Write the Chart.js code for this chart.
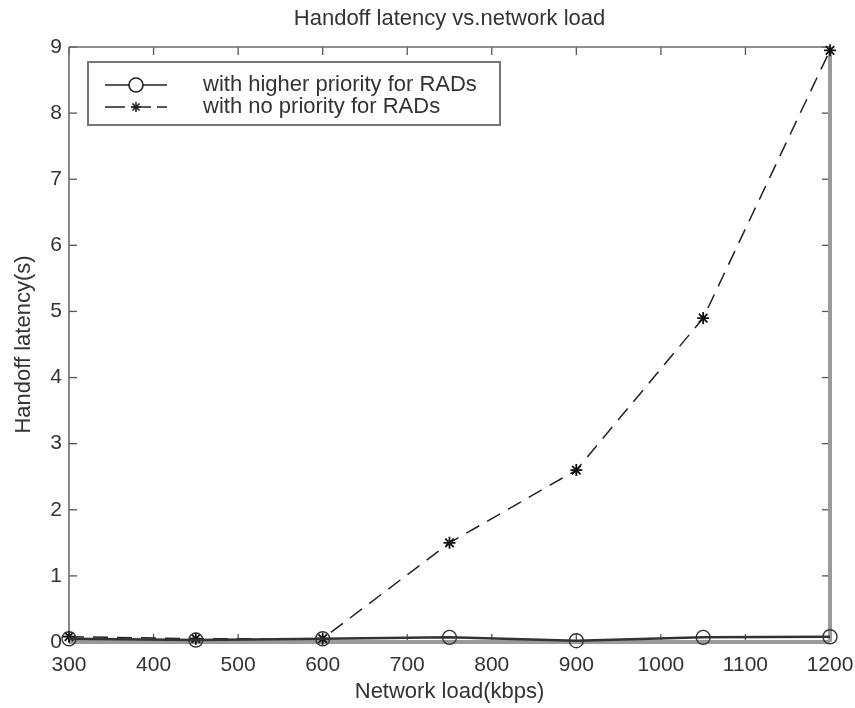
<!DOCTYPE html>
<html><head><meta charset="utf-8">
<style>html,body{margin:0;padding:0;background:#fff}#wrap{width:855px;height:708px}</style>
<script src="https://cdn.jsdelivr.net/npm/chart.js@4.4.1/dist/chart.umd.min.js"></script>
</head><body><div id="wrap"><canvas id="c" width="855" height="708"></canvas></div>
<script>
const titleText = 'Handoff latency vs.network load';
const xAxisTitle = 'Network load(kbps)';
const yAxisTitle = 'Handoff latency(s)';
const seriesLabels = ['with higher priority for RADs', 'with no priority for RADs'];
const loads = [300, 450, 600, 750, 900, 1050, 1200];
const withPriority = [0.05, 0.03, 0.05, 0.07, 0.02, 0.07, 0.08];
const noPriority = [0.08, 0.05, 0.05, 1.5, 2.6, 4.9, 8.95];
const xTicks = [300, 400, 500, 600, 700, 800, 900, 1000, 1100, 1200];
const yTicks = [0, 1, 2, 3, 4, 5, 6, 7, 8, 9];

const FONT = '"Liberation Sans", Arial, sans-serif';
const TXT = '#333';

const framePlugin = {
  id: 'frame',
  beforeDatasetsDraw(chart) {
    const {ctx, chartArea: {left, right, top, bottom}, scales: {x, y}} = chart;
    const line = (a, b, c, d) => { ctx.beginPath(); ctx.moveTo(a, b); ctx.lineTo(c, d); ctx.stroke(); };
    ctx.save();
    ctx.strokeStyle = '#555'; ctx.lineWidth = 1.3;
    xTicks.forEach(v => { const px = x.getPixelForValue(v); line(px, bottom, px, bottom - 8); line(px, top, px, top + 8); });
    yTicks.forEach(v => { const py = y.getPixelForValue(v); line(left, py, left + 8, py); line(right, py, right - 8, py); });
    ctx.strokeStyle = '#6a6a6a'; ctx.lineWidth = 1.6;
    line(left, bottom, left, top); line(left, top, right, top);
    ctx.strokeStyle = '#9a9a9a'; ctx.lineWidth = 4;
    line(right, top, right, bottom); line(left, bottom, right, bottom);
    ctx.restore();
  }
};

const titlePlugin = {
  id: 'plotTitle',
  afterDraw(chart) {
    const {ctx, chartArea: {left, right}} = chart;
    ctx.save();
    ctx.font = '22px ' + FONT;
    ctx.fillStyle = TXT;
    ctx.textAlign = 'center';
    ctx.textBaseline = 'middle';
    ctx.fillText(titleText, (left + right) / 2, 19);
    ctx.restore();
  }
};

const legendPlugin = {
  id: 'customLegend',
  afterDraw(chart) {
    const {ctx} = chart;
    const bx = 88, by = 62, bw = 412, bh = 63;
    ctx.save();
    ctx.fillStyle = '#fff';
    ctx.fillRect(bx, by, bw, bh);
    ctx.strokeStyle = '#777'; ctx.lineWidth = 2;
    ctx.strokeRect(bx, by, bw, bh);
    const rows = [85, 107];
    chart.data.datasets.forEach((ds, i) => {
      const yy = rows[i];
      ctx.strokeStyle = '#222'; ctx.lineWidth = 1.6;
      ctx.setLineDash(i === 1 ? [20, 6] : []);
      ctx.beginPath(); ctx.moveTo(105, yy); ctx.lineTo(167, yy); ctx.stroke();
      ctx.setLineDash([]);
      ctx.strokeStyle = '#222';
      ctx.fillStyle = i === 0 ? '#fff' : '#222';
      Chart.helpers.drawPoint(ctx, {pointStyle: ds.pointStyle, radius: i === 0 ? 7 : 5, borderWidth: 1.4}, 136, yy);
      ctx.fillStyle = TXT;
      ctx.font = '22px ' + FONT;
      ctx.textBaseline = 'middle';
      ctx.fillText(seriesLabels[i], 203, yy);
    });
    ctx.restore();
  }
};

new Chart(document.getElementById('c'), {
  type: 'line',
  data: {
    labels: loads,
    datasets: [
      {
        label: seriesLabels[0],
        data: loads.map((v, i) => ({x: v, y: withPriority[i]})),
        borderColor: '#333', borderWidth: 2.5, pointStyle: 'circle', pointRadius: 7,
        pointBorderColor: '#333', pointBackgroundColor: 'rgba(0,0,0,0)', pointBorderWidth: 1.4,
        tension: 0, clip: false
      },
      {
        label: seriesLabels[1],
        data: loads.map((v, i) => ({x: v, y: noPriority[i]})),
        borderColor: '#222', borderWidth: 1.5, borderDash: [15, 9], pointStyle: 'star', pointRadius: 6,
        pointBorderColor: '#111', pointBackgroundColor: '#111', pointBorderWidth: 1.8,
        tension: 0, clip: false
      }
    ]
  },
  options: {
    responsive: false, animation: false,
    layout: {padding: {left: 0, right: 25, top: 47, bottom: 0}},
    plugins: {
      legend: {display: false},
      tooltip: {enabled: false},
      title: {display: false}
    },
    scales: {
      x: {
        type: 'linear', min: 300, max: 1200,
        afterBuildTicks: s => { s.ticks = xTicks.map(v => ({value: v})); },
        afterFit: s => { s.height = 66; s.paddingLeft = 0; s.paddingRight = 0; },
        grid: {display: false, drawTicks: false},
        border: {display: false},
        ticks: {color: TXT, font: {family: FONT, size: 21}, padding: 11, maxRotation: 0, autoSkip: false, callback: v => String(v)},
        title: {display: true, text: xAxisTitle, color: TXT, font: {family: FONT, size: 22}, padding: {top: 0, bottom: 3}}
      },
      y: {
        type: 'linear', min: 0, max: 9,
        afterBuildTicks: s => { s.ticks = yTicks.map(v => ({value: v})); },
        afterFit: s => { s.width = 69; s.paddingTop = 0; s.paddingBottom = 0; },
        grid: {display: false, drawTicks: false},
        border: {display: false},
        ticks: {color: TXT, font: {family: FONT, size: 21}, padding: 7, callback: v => String(v)},
        title: {display: true, text: yAxisTitle, color: TXT, font: {family: FONT, size: 22}, padding: {top: 11, bottom: 0}}
      }
    }
  },
  plugins: [framePlugin, titlePlugin, legendPlugin]
});
</script></body></html>
